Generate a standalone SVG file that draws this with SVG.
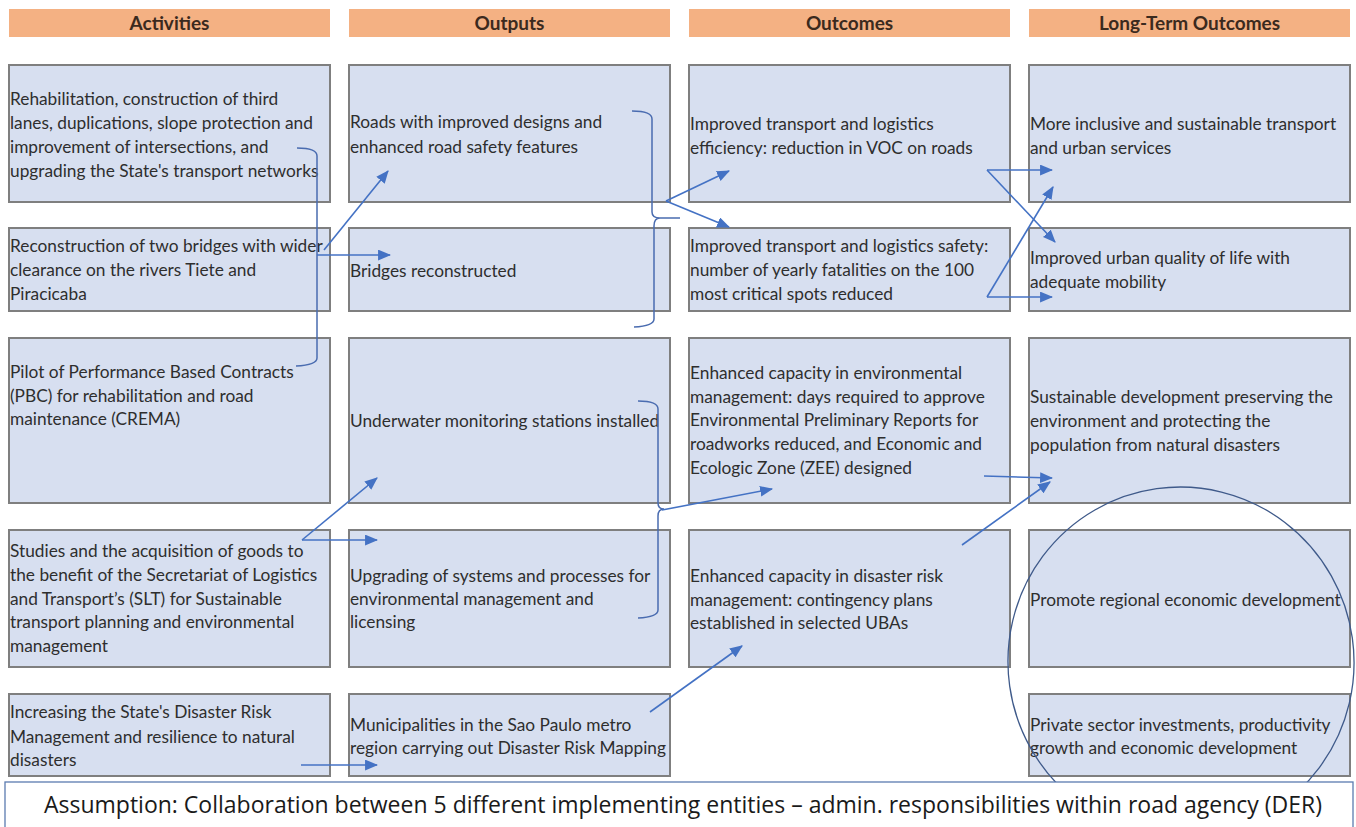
<svg xmlns="http://www.w3.org/2000/svg" width="1356" height="827" viewBox="0 0 1356 827">
<defs>
<style>
.hdr{fill:#f4b183;}
.hdrt{font-family:Lato,"Liberation Sans",sans-serif;font-weight:bold;font-size:19px;fill:#3b2a1e;text-anchor:middle;}
.box{fill:#d7dff0;stroke:#7f7f7f;stroke-width:2;}
.t{font-family:Lato,"Liberation Sans",sans-serif;font-size:17.3px;fill:#2e2e2e;}
.ar{fill:none;stroke:#4472c4;stroke-width:1.6;marker-end:url(#ah);}
.br{fill:none;stroke:#4a6cb0;stroke-width:1.5;}
.asm{font-family:"Open Sans","Liberation Sans",sans-serif;font-size:23px;fill:#1a1a1a;text-anchor:middle;}
</style>
<marker id="ah" viewBox="0 0 12 10" refX="11" refY="5" markerWidth="13" markerHeight="11" markerUnits="userSpaceOnUse" orient="auto">
<path d="M0,0 L12,5 L0,10 Z" fill="#4472c4"/>
</marker>
</defs>
<rect x="0" y="0" width="1356" height="827" fill="#ffffff"/>

<g id="headers">
<g id="h-activities"><rect class="hdr" x="9" y="9" width="321" height="28"/><text class="hdrt" x="169.5" y="30">Activities</text></g>
<g id="h-outputs"><rect class="hdr" x="349" y="9" width="321" height="28"/><text class="hdrt" x="509.5" y="30">Outputs</text></g>
<g id="h-outcomes"><rect class="hdr" x="689" y="9" width="321" height="28"/><text class="hdrt" x="849.5" y="30">Outcomes</text></g>
<g id="h-longterm"><rect class="hdr" x="1029" y="9" width="321" height="28"/><text class="hdrt" x="1189.5" y="30">Long-Term Outcomes</text></g>
</g>

<g id="a1"><rect class="box" x="9" y="65" width="321" height="137"/>
<text class="t"><tspan x="10" y="105">Rehabilitation, construction of third</tspan><tspan x="10" y="129">lanes, duplications, slope protection and</tspan><tspan x="10" y="153">improvement of intersections, and</tspan><tspan x="10" y="177">upgrading the State's transport networks</tspan></text></g>
<g id="a2"><rect class="box" x="9" y="228" width="321" height="83"/>
<text class="t"><tspan x="10" y="252">Reconstruction of two bridges with wider</tspan><tspan x="10" y="276">clearance on the rivers Tiete and</tspan><tspan x="10" y="300">Piracicaba</tspan></text></g>
<g id="a3"><rect class="box" x="9" y="338" width="321" height="165"/>
<text class="t"><tspan x="10" y="378">Pilot of Performance Based Contracts</tspan><tspan x="10" y="402">(PBC) for rehabilitation and road</tspan><tspan x="10" y="425">maintenance (CREMA)</tspan></text></g>
<g id="a4"><rect class="box" x="9" y="530" width="321" height="137"/>
<text class="t"><tspan x="10" y="557">Studies and the acquisition of goods to</tspan><tspan x="10" y="581">the benefit of the Secretariat of Logistics</tspan><tspan x="10" y="605">and Transport’s (SLT) for Sustainable</tspan><tspan x="10" y="628">transport planning and environmental</tspan><tspan x="10" y="652">management</tspan></text></g>
<g id="a5"><rect class="box" x="9" y="694" width="321" height="82"/>
<text class="t"><tspan x="10" y="718">Increasing the State's Disaster Risk</tspan><tspan x="10" y="743">Management and resilience to natural</tspan><tspan x="10" y="766">disasters</tspan></text></g>

<g id="o1"><rect class="box" x="349" y="65" width="321" height="137"/>
<text class="t"><tspan x="350" y="128">Roads with improved designs and</tspan><tspan x="350" y="153">enhanced road safety features</tspan></text></g>
<g id="o2"><rect class="box" x="349" y="228" width="321" height="83"/>
<text class="t"><tspan x="350" y="277">Bridges reconstructed</tspan></text></g>
<g id="o3"><rect class="box" x="349" y="338" width="321" height="165"/>
<text class="t"><tspan x="350" y="427">Underwater monitoring stations installed</tspan></text></g>
<g id="o4"><rect class="box" x="349" y="530" width="321" height="137"/>
<text class="t"><tspan x="350" y="582">Upgrading of systems and processes for</tspan><tspan x="350" y="605">environmental management and</tspan><tspan x="350" y="628">licensing</tspan></text></g>
<g id="o5"><rect class="box" x="349" y="694" width="321" height="82"/>
<text class="t"><tspan x="350" y="731">Municipalities in the Sao Paulo metro</tspan><tspan x="350" y="754">region carrying out Disaster Risk Mapping</tspan></text></g>

<g id="c1"><rect class="box" x="689" y="65" width="321" height="137"/>
<text class="t"><tspan x="690" y="130">Improved transport and logistics</tspan><tspan x="690" y="154">efficiency: reduction in VOC on roads</tspan></text></g>
<g id="c2"><rect class="box" x="689" y="228" width="321" height="83"/>
<text class="t"><tspan x="690" y="252">Improved transport and logistics safety:</tspan><tspan x="690" y="276">number of yearly fatalities on the 100</tspan><tspan x="690" y="300">most critical spots reduced</tspan></text></g>
<g id="c3"><rect class="box" x="689" y="338" width="321" height="165"/>
<text class="t"><tspan x="690" y="379">Enhanced capacity in environmental</tspan><tspan x="690" y="403">management: days required to approve</tspan><tspan x="690" y="426">Environmental Preliminary Reports for</tspan><tspan x="690" y="450">roadworks reduced, and Economic and</tspan><tspan x="690" y="474">Ecologic Zone (ZEE) designed</tspan></text></g>
<g id="c4"><rect class="box" x="689" y="530" width="321" height="137"/>
<text class="t"><tspan x="690" y="582">Enhanced capacity in disaster risk</tspan><tspan x="690" y="606">management: contingency plans</tspan><tspan x="690" y="629">established in selected UBAs</tspan></text></g>

<g id="l1"><rect class="box" x="1029" y="65" width="321" height="137"/>
<text class="t"><tspan x="1030" y="130">More inclusive and sustainable transport</tspan><tspan x="1030" y="154">and urban services</tspan></text></g>
<g id="l2"><rect class="box" x="1029" y="228" width="321" height="83"/>
<text class="t"><tspan x="1030" y="264">Improved urban quality of life with</tspan><tspan x="1030" y="288">adequate mobility</tspan></text></g>
<g id="l3"><rect class="box" x="1029" y="338" width="321" height="165"/>
<text class="t"><tspan x="1030" y="403">Sustainable development preserving the</tspan><tspan x="1030" y="427">environment and protecting the</tspan><tspan x="1030" y="451">population from natural disasters</tspan></text></g>
<g id="l4"><rect class="box" x="1029" y="530" width="321" height="137"/>
<text class="t"><tspan x="1030" y="606">Promote regional economic development</tspan></text></g>
<g id="l5"><rect class="box" x="1029" y="694" width="321" height="82"/>
<text class="t"><tspan x="1030" y="731">Private sector investments, productivity</tspan><tspan x="1030" y="754">growth and economic development</tspan></text></g>

<g id="connectors">
<path class="br" d="M297,148 Q317,148 317,156 L317,358 Q317,365 296,366"/>
<path class="ar" d="M317,255 L390,255"/>
<path class="ar" d="M324,250 L388,171"/>

<path class="br" d="M632,111 Q652,111 652,119 L652,212 Q652,218 660,218 L680,218 M660,218 Q654,218 654,226 L654,319 Q654,326 634,327"/>
<path class="ar" d="M666,201 L729,171"/>
<path class="ar" d="M666,201 L729,227"/>

<path class="br" d="M638,401 Q658,401 658,409 L658,503 Q658,509 664,509 M664,509 Q658,509 658,516 L658,610 Q658,617 638,618"/>
<path class="ar" d="M662,510 L772,489"/>

<path class="ar" d="M650,712 L742,646"/>
<path class="ar" d="M302,540 L377,478"/>
<path class="ar" d="M302,540 L377,540"/>
<path class="ar" d="M301,765 L377,765"/>

<path class="ar" d="M987,170 L1052,170"/>
<path class="ar" d="M987,170 L1055,242"/>
<path class="ar" d="M987,297 L1052,297"/>
<path class="ar" d="M987,297 L1053,187"/>
<path class="ar" d="M984,476 L1052,478"/>
<path class="ar" d="M962,545 L1050,482"/>
</g>

<ellipse id="highlight-circle" cx="1181" cy="662" rx="173" ry="175" transform="rotate(-8 1181 662)" fill="none" stroke="#3f5a8a" stroke-width="1.3"/>

<g id="assumption">
<rect x="5" y="782" width="1348" height="50" fill="#ffffff" stroke="#5b7bb0" stroke-width="1.3"/>
<text class="asm" x="683" y="813">Assumption: Collaboration between 5 different implementing entities – admin. responsibilities within road agency (DER)</text>
</g>
</svg>
